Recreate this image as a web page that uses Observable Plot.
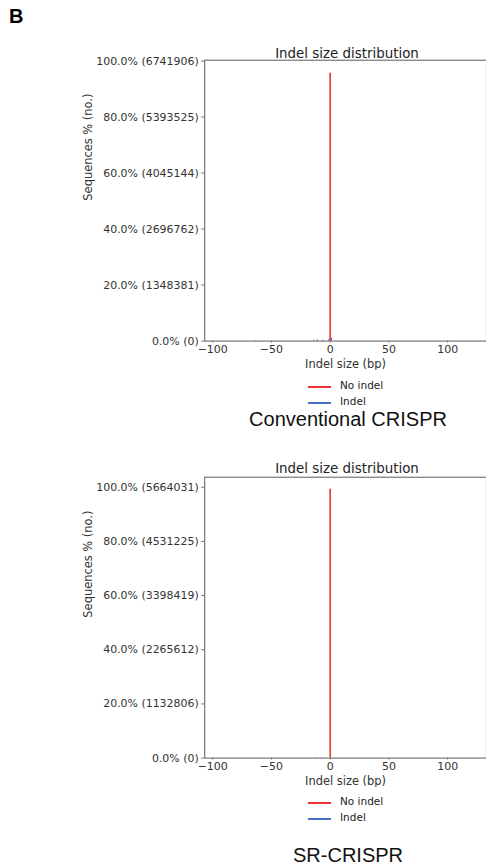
<!DOCTYPE html>
<html>
<head>
<meta charset="utf-8">
<script src="https://cdn.jsdelivr.net/npm/d3@7"></script>
<script src="https://cdn.jsdelivr.net/npm/@observablehq/plot@0.6"></script>
<style>
  html, body { margin: 0; padding: 0; background: #fff; overflow: hidden; }
  #root { position: relative; width: 486px; height: 868px; overflow: hidden; }
  .abs { position: absolute; white-space: nowrap; }
  .title { font-family: "DejaVu Sans", sans-serif; font-size: 13.4px; color: #222; transform: translate(-50%, -50%); }
  .cap { font-family: "Liberation Sans", Arial, sans-serif; font-size: 20px; color: #111; transform: translate(-50%, -50%); }
  .leg { font-family: "DejaVu Sans", sans-serif; font-size: 10.5px; color: #222; transform: translateY(-50%); }
  .legline { position: absolute; height: 2px; width: 23px; }
</style>
</head>
<body>
<div id="root"></div>
<script>
// ---------- data ----------
const yTicks = [0, 20, 40, 60, 80, 100];
const countLabels1 = ["0", "1348381", "2696762", "4045144", "5393525", "6741906"];
const countLabels2 = ["0", "1132806", "2265612", "3398419", "4531225", "5664031"];
const xTicks = [-100, -50, 0, 50, 100];

// Conventional CRISPR
const noIndelSize1 = [0];
const noIndelPct1 = [95.7];
const indelSize1 = [-64, -14, -11, -6, -1, 1];
const indelPct1 = [0.25, 0.3, 0.35, 0.3, 0.6, 1.0];

// SR-CRISPR
const noIndelSize2 = [0];
const noIndelPct2 = [99.3];
const indelSize2 = [-12, -7];
const indelPct2 = [0.2, 0.25];

const panels = [
  {top: 0, yMax: 100.3, counts: countLabels1, noS: noIndelSize1, noP: noIndelPct1, inS: indelSize1, inP: indelPct1,
   titleY: 53, legY: 387, capY: 419, caption: "Conventional CRISPR"},
  {top: 417, yMax: 103.7, counts: countLabels2, noS: noIndelSize2, noP: noIndelPct2, inS: indelSize2, inP: indelPct2,
   titleY: 468, legY: 803, capY: 855, caption: "SR-CRISPR"}
];

const RED = "#f03030";
const BLUE = "#4a6fc8";
const root = document.getElementById("root");

function addDiv(cls, text, x, y) {
  const d = document.createElement("div");
  d.className = "abs " + cls;
  d.textContent = text;
  d.style.left = x + "px";
  d.style.top = y + "px";
  root.appendChild(d);
  return d;
}

// "B" label
const B = addDiv("", "B", 9, 5);
B.style.fontFamily = "'Liberation Sans', Arial, sans-serif";
B.style.fontWeight = "bold";
B.style.fontSize = "20px";
B.style.color = "#000";

panels.forEach(p => {
  const noData = p.noS.map((s, i) => ({size: s, pct: p.noP[i]}));
  const inData = p.inS.map((s, i) => ({size: s, pct: p.inP[i]}));
  const chart = Plot.plot({
    width: 488,
    height: 372,
    marginLeft: 205,
    marginRight: 0,
    marginTop: 60,
    marginBottom: 30,
    style: {fontFamily: "'DejaVu Sans', sans-serif", fontSize: "11px", color: "#333", background: "transparent"},
    x: {domain: [-106.8, 133]},
    y: {domain: [0, p.yMax]},
    marks: [
      Plot.ruleX(inData, {x: "size", y1: 0, y2: "pct", stroke: BLUE, strokeWidth: 1.5}),
      Plot.ruleX(noData, {x: "size", y1: 0, y2: "pct", stroke: RED, strokeWidth: 1.6}),
      Plot.frame({stroke: "#777", strokeWidth: 1.2}),
      Plot.axisY(yTicks, {
        tickSize: 3, tickPadding: 3, stroke: "#777",
        tickFormat: (d) => `${d.toFixed(1)}% (${p.counts[yTicks.indexOf(d)]})`,
        label: null, fontSize: 11, fill: "#333"
      }),
      Plot.axisX(xTicks, {
        tickSize: 2, tickPadding: 2, stroke: "#777",
        tickFormat: (d) => d < 0 ? "\u2212" + Math.abs(d) : String(d),
        label: null, fontSize: 11, fill: "#333"
      }),
      Plot.text(["Indel size (bp)"], {frameAnchor: "bottom", lineAnchor: "middle", dy: 23, fontSize: 11.5, fill: "#333"}),
      Plot.text(["Sequences % (no.)"], {frameAnchor: "left", dx: -117, rotate: -90, fontSize: 11.5, fill: "#333"})
    ]
  });
  chart.style.position = "absolute";
  chart.style.left = "0px";
  chart.style.top = p.top + "px";
  root.appendChild(chart);

  addDiv("title", "Indel size distribution", 347, p.titleY);

  const l1 = document.createElement("div");
  l1.className = "legline"; l1.style.background = RED;
  l1.style.left = "308px"; l1.style.top = (p.legY - 1) + "px";
  root.appendChild(l1);
  const l2 = document.createElement("div");
  l2.className = "legline"; l2.style.background = BLUE;
  l2.style.left = "308px"; l2.style.top = (p.legY + 15) + "px";
  root.appendChild(l2);
  addDiv("leg", "No indel", 340, p.legY - 2);
  addDiv("leg", "Indel", 340, p.legY + 14);

  addDiv("cap", p.caption, 348, p.capY);
});
</script>
</body>
</html>
